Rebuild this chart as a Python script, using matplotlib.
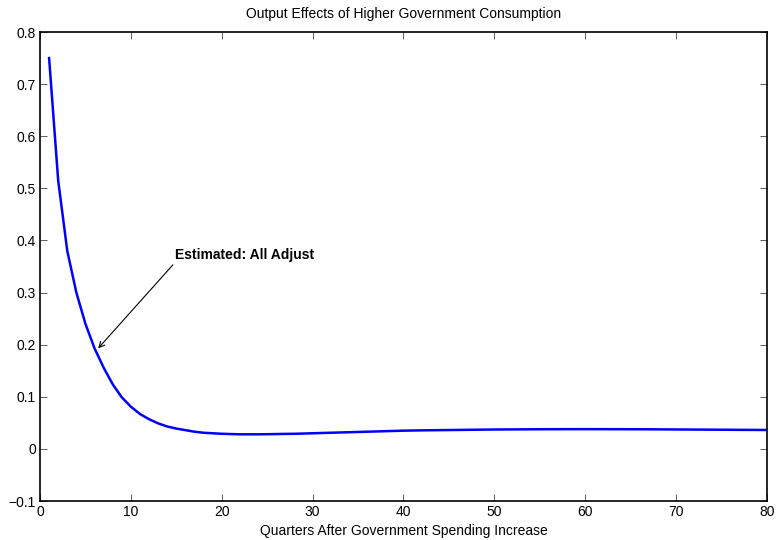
import matplotlib
matplotlib.use("Agg")
import matplotlib.pyplot as plt

plt.rcParams['font.family'] = ['Liberation Sans', 'DejaVu Sans']

# quarters after the spending increase and the output response
quarters = list(range(1, 81))
output = [0.750, 0.515, 0.380, 0.300, 0.240, 0.193, 0.156, 0.124, 0.099, 0.081,
          0.067, 0.057, 0.049, 0.043, 0.039, 0.036, 0.033, 0.031, 0.030, 0.029,
          0.0285, 0.028, 0.028, 0.028, 0.0282, 0.0285, 0.0288, 0.029, 0.0295, 0.030,
          0.0305, 0.031, 0.0315, 0.032, 0.0325, 0.033, 0.0335, 0.034, 0.0345, 0.035,
          0.0353, 0.0356, 0.0358, 0.036, 0.0362, 0.0364, 0.0366, 0.0368, 0.037, 0.0372,
          0.0373, 0.0374, 0.0375, 0.0376, 0.0377, 0.0378, 0.0378, 0.0379, 0.0379, 0.0379,
          0.0379, 0.0379, 0.0378, 0.0378, 0.0377, 0.0377, 0.0376, 0.0375, 0.0374, 0.0373,
          0.0372, 0.0371, 0.037, 0.0369, 0.0368, 0.0367, 0.0366, 0.0365, 0.0364, 0.0363]

xticks = [0, 10, 20, 30, 40, 50, 60, 70, 80]
yticks = [-0.1, 0, 0.1, 0.2, 0.3, 0.4, 0.5, 0.6, 0.7, 0.8]
yticklabels = ['\u22120.1', '0', '0.1', '0.2', '0.3', '0.4', '0.5', '0.6', '0.7', '0.8']

fig = plt.figure(figsize=(7.77, 5.4), dpi=100)
ax = fig.add_axes([0.0515, 0.0722, 0.9355, 0.8685])

ax.plot(quarters, output, color='blue', lw=1.8)

ax.set_xlim(0, 80)
ax.set_ylim(-0.1, 0.8)
ax.set_xticks(xticks)
ax.set_yticks(yticks)
ax.set_yticklabels(yticklabels)
ax.tick_params(direction='in', length=5, width=0.6, top=True, right=True,
               labelsize=10, pad=3, color='#444444')
for s in ax.spines.values():
    s.set_linewidth(1.2)

ax.set_title('Output Effects of Higher Government Consumption', fontsize=10, pad=10)
ax.set_xlabel('Quarters After Government Spending Increase', fontsize=10, labelpad=3.5)

ax.annotate('Estimated: All Adjust', xy=(6.4, 0.193), xytext=(14.9, 0.372),
            fontsize=10, fontweight='bold', va='center', ha='left',
            arrowprops=dict(arrowstyle='->', lw=0.8, color='black',
                            shrinkA=0, shrinkB=0,
                            relpos=(0.0, 0.0)))

fig.savefig('out.png', dpi=100)
